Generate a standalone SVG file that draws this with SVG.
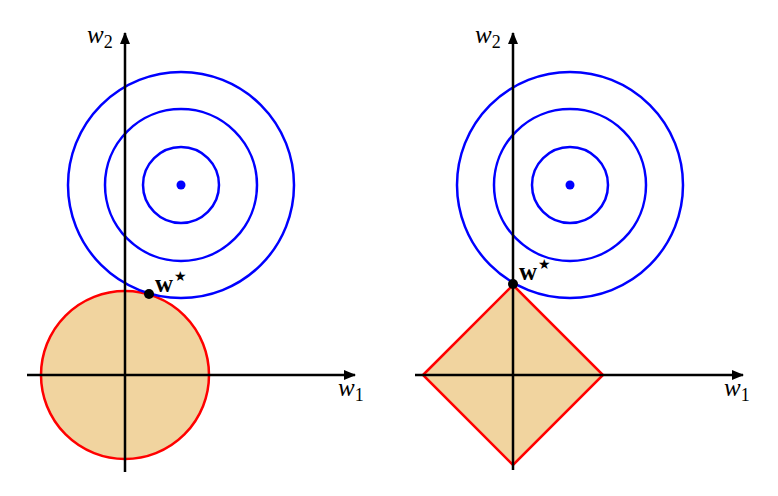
<svg xmlns="http://www.w3.org/2000/svg" width="778" height="496" viewBox="0 0 778 496">
<style>
.contour{fill:none;stroke:#0000ff;stroke-width:2.5}
.region{fill:#f1d49f;stroke:#ff0000;stroke-width:2.5}
.axis{fill:none;stroke:#000;stroke-width:2.5}
.lbl{font-family:"Liberation Serif","DejaVu Serif",serif;font-style:italic;font-size:25px;fill:#000}
.sub{font-style:normal;font-size:18px}
.wstar{font-family:"Liberation Serif","DejaVu Serif",serif;font-weight:bold;font-size:25px;fill:#000}
.star{font-family:"DejaVu Sans",sans-serif;font-weight:normal;font-size:14px}
</style>
<defs>
<marker id="arr" viewBox="0 0 12 10" refX="11" refY="5" markerWidth="12" markerHeight="10" markerUnits="userSpaceOnUse" orient="auto">
<path d="M0,0 L12,5 L0,10 Z" fill="#000"/>
</marker>
</defs>
<rect width="778" height="496" fill="#fff"/>
<g id="left-panel">
<g id="left-region"><circle class="region" cx="125" cy="375" r="84"/></g>
<g id="left-contours">
<circle class="contour" cx="181" cy="185" r="38"/>
<circle class="contour" cx="181" cy="185" r="76"/>
<circle class="contour" cx="181" cy="185" r="113"/>
<circle cx="181" cy="185" r="4.5" fill="#0000ff"/>
</g>
</g>
<g id="right-panel">
<g id="right-region"><polygon class="region" points="423,375 513,285 603,375 513,465"/></g>
<g id="right-contours">
<circle class="contour" cx="570" cy="185" r="38"/>
<circle class="contour" cx="570" cy="185" r="76"/>
<circle class="contour" cx="570" cy="185" r="113"/>
<circle cx="570" cy="185" r="4.5" fill="#0000ff"/>
</g>
</g>
<g id="connectors">
<line class="axis" x1="27" y1="375" x2="355" y2="375" marker-end="url(#arr)"/>
<line class="axis" x1="125" y1="472" x2="125" y2="33" marker-end="url(#arr)"/>
<line class="axis" x1="415" y1="375" x2="743" y2="375" marker-end="url(#arr)"/>
<line class="axis" x1="513" y1="470" x2="513" y2="33" marker-end="url(#arr)"/>
</g>
<g id="left-optimum">
<circle cx="149" cy="294" r="5" fill="#000"/>
<text class="wstar" x="155" y="292">w<tspan class="star" dx="1" dy="-11">★</tspan></text>
</g>
<g id="right-optimum">
<circle cx="513" cy="284" r="5" fill="#000"/>
<text class="wstar" x="519" y="280">w<tspan class="star" dx="1" dy="-11">★</tspan></text>
</g>
<g id="labels">
<text class="lbl" x="87" y="43">w<tspan class="sub" dy="5">2</tspan></text>
<text class="lbl" x="338" y="396">w<tspan class="sub" dy="5">1</tspan></text>
<text class="lbl" x="475" y="43">w<tspan class="sub" dy="5">2</tspan></text>
<text class="lbl" x="724" y="396">w<tspan class="sub" dy="5">1</tspan></text>
</g>
</svg>
